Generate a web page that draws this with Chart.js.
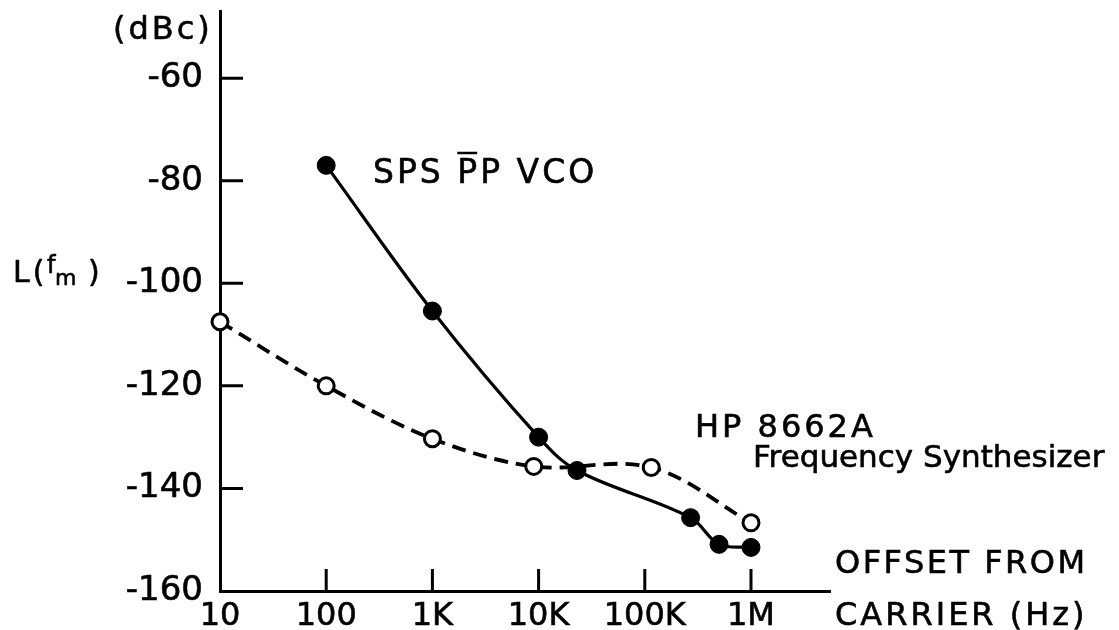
<!DOCTYPE html>
<html>
<head>
<meta charset="utf-8">
<script src="https://cdn.jsdelivr.net/npm/chart.js"></script>
<style>
  body { margin: 0; background: #fff; }
  #wrap { width: 1119px; height: 630px; }
</style>
</head>
<body>
<div id="wrap"><canvas id="myChart"></canvas></div>
<script>
// values
const spsX = [100, 1000, 10000, 23000, 270000, 500000, 1000000]
const spsY = [-77, -105.4, -130, -136.5, -145.7, -150.9, -151.5]
const hpX = [10, 100, 1000, 9000, 115000, 1000000]
const hpY = [-107.5, -120, -130.3, -135.7, -135.9, -146.7]

const xTicks = [10, 100, 1000, 10000, 100000, 1000000]
const xTickLabels = ['10', '100', '1K', '10K', '100K', '1M']
const yTicks = [-160, -140, -120, -100, -80, -60]

const font = "'DejaVu Sans', sans-serif"

function pts(xs, ys) {
  return xs.map((x, i) => ({ x: x, y: ys[i] }))
}

// inward ticks and the hand-lettered labels
const extras = {
  id: 'extras',
  afterDraw(chart) {
    const ctx = chart.ctx
    const sx = chart.scales.x
    const sy = chart.scales.y
    const a = chart.chartArea
    ctx.save()
    ctx.strokeStyle = '#000'
    ctx.fillStyle = '#000'
    ctx.lineWidth = 3
    ctx.beginPath()
    yTicks.forEach(v => {
      if (v > -160) {
        const y = sy.getPixelForValue(v)
        ctx.moveTo(a.left, y)
        ctx.lineTo(a.left + 23, y)
      }
    })
    xTicks.forEach(v => {
      if (v > 10) {
        const x = sx.getPixelForValue(v)
        ctx.moveTo(x, a.bottom)
        ctx.lineTo(x, a.bottom - 22)
      }
    })
    ctx.stroke()

    ctx.textBaseline = 'alphabetic'
    ctx.textAlign = 'left'
    ctx.lineWidth = 0.6
    ctx.lineJoin = 'round'
    function txt(s, x, y, size, sp) {
      ctx.font = size + 'px ' + font
      ctx.letterSpacing = sp + 'px'
      ctx.fillText(s, x, y)
      ctx.strokeText(s, x, y)
    }

    txt('(dBc)', 113, 39, 32, 3)

    // L(f_m)
    txt('L(', 13, 282, 30, 3)
    txt('f', 47, 273, 24, 0)
    txt('m', 55, 285, 22, 0)
    txt(')', 88, 282, 30, 0)

    // SPS PP VCO with a bar over the first P
    txt('SPS PP VCO', 373, 183, 33, 3)
    ctx.font = '33px ' + font
    ctx.letterSpacing = '3px'
    const px = 373 + ctx.measureText('SPS ').width
    const pw = ctx.measureText('P').width - 3
    ctx.lineWidth = 2.5
    ctx.beginPath()
    ctx.moveTo(px, 153)
    ctx.lineTo(px + pw, 153)
    ctx.stroke()
    ctx.lineWidth = 0.6

    txt('HP 8662A', 695, 437, 32, 3)
    txt('Frequency Synthesizer', 753, 467, 31, 0)

    txt('OFFSET FROM', 835, 573, 32, 2.5)
    txt('CARRIER (Hz)', 835, 625, 32, 3)
    ctx.restore()
  }
}

const ctx = document.getElementById('myChart')
new Chart(ctx, {
  type: 'line',
  data: {
    datasets: [{
      label: 'SPS PP VCO',
      data: pts(spsX, spsY),
      borderColor: '#000',
      borderWidth: 3.2,
      tension: 0.35,
      pointRadius: 9,
      pointBackgroundColor: '#000',
      pointBorderColor: '#000',
      pointBorderWidth: 1,
      clip: false
    }, {
      label: 'HP 8662A Frequency Synthesizer',
      data: pts(hpX, hpY),
      borderColor: '#000',
      borderWidth: 3.8,
      borderDash: [14, 8],
      tension: 0.35,
      pointRadius: 8,
      pointBackgroundColor: '#fff',
      pointBorderColor: '#000',
      pointBorderWidth: 3,
      clip: false
    }]
  },
  options: {
    responsive: true,
    maintainAspectRatio: false,
    animation: false,
    layout: { padding: { left: 0, top: 5, right: 289, bottom: 0 } },
    plugins: {
      legend: { display: false },
      tooltip: { enabled: false }
    },
    scales: {
      x: {
        type: 'logarithmic',
        min: 10,
        max: 5546000,
        afterBuildTicks: s => { s.ticks = xTicks.map(v => ({ value: v })) },
        afterFit: s => { s.height = 39; s.paddingLeft = 0; s.paddingRight = 0 },
        grid: { display: false, drawTicks: false },
        border: { display: true, color: '#000', width: 3 },
        ticks: {
          autoSkip: false,
          maxRotation: 0,
          minRotation: 0,
          padding: 6,
          color: '#000',
          textStrokeColor: '#000',
          textStrokeWidth: 0.6,
          font: { family: font, size: 32 },
          callback: (v, i) => xTickLabels[i]
        }
      },
      y: {
        type: 'linear',
        min: -160,
        max: -46.9,
        afterBuildTicks: s => { s.ticks = yTicks.map(v => ({ value: v })) },
        afterFit: s => { s.width = 220; s.paddingTop = 0; s.paddingBottom = 0 },
        grid: { display: false, drawTicks: false },
        border: { display: true, color: '#000', width: 3 },
        ticks: {
          padding: 17,
          color: '#000',
          textStrokeColor: '#000',
          textStrokeWidth: 0.6,
          font: { family: font, size: 34 },
          callback: v => v.toString()
        }
      }
    }
  },
  plugins: [extras]
})
</script>
</body>
</html>
